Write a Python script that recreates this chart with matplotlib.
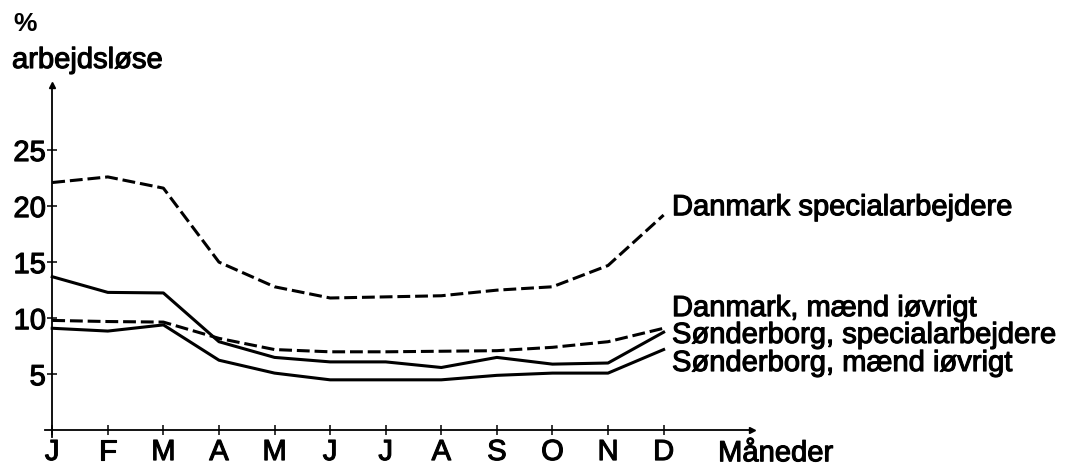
import matplotlib.pyplot as plt
import matplotlib.patheffects as pe

plt.rcParams['font.family'] = ['Liberation Sans', 'DejaVu Sans']

# maaneder og data (procent arbejdsloese)
months = ['J', 'F', 'M', 'A', 'M', 'J', 'J', 'A', 'S', 'O', 'N', 'D']
dk_special = [22.1, 22.6, 21.6, 15.0, 12.8, 11.8, 11.9, 12.0, 12.5, 12.8, 14.7, 19.2]
dk_maend = [9.8, 9.7, 9.65, 8.2, 7.2, 7.0, 7.0, 7.05, 7.1, 7.4, 7.9, 9.1]
sb_special = [13.7, 12.3, 12.25, 7.9, 6.5, 6.1, 6.1, 5.6, 6.5, 5.9, 6.0, 8.75]
sb_maend = [9.1, 8.85, 9.4, 6.25, 5.1, 4.5, 4.5, 4.5, 4.9, 5.1, 5.1, 7.2]
yticks = [5, 10, 15, 20, 25]

labels = ['Danmark specialarbejdere', 'Danmark, mænd iøvrigt',
          'Sønderborg, specialarbejdere', 'Sønderborg, mænd iøvrigt']
label_y = [19.9, 10.9, 8.5, 6.0]

# lidt federe skrift, som i originalen
thick = [pe.withStroke(linewidth=0.8, foreground='black')]

W, H = 1068, 467
fig = plt.figure(figsize=(W / 100, H / 100), dpi=100)
ax = fig.add_axes([45 / W, (H - 437) / H, 707 / W, 352 / H])

x = list(range(len(months)))
lw = 2.2
ax.plot(x, dk_special, color='black', lw=lw, dashes=(4.2, 1.6))
ax.plot(x, dk_maend, color='black', lw=lw, dashes=(4.2, 1.6))
ax.plot(x, sb_special, color='black', lw=lw)
ax.plot(x, sb_maend, color='black', lw=lw)

ax.set_xlim(-0.13, 12.59)
ax.set_ylim(-0.6, 30.8)

for s in ['top', 'right']:
    ax.spines[s].set_visible(False)
ax.spines['left'].set_position(('data', 0))
ax.spines['bottom'].set_position(('data', 0))
ax.spines['left'].set_linewidth(1.3)
ax.spines['bottom'].set_linewidth(1.3)

# pile paa akserne
ax.plot([0], [30.8], marker='^', color='black', ms=5, clip_on=False)
ax.plot([12.59], [0], marker='>', color='black', ms=5, clip_on=False)

ax.set_xticks(x)
ax.set_xticklabels(months, fontsize=21)
ax.set_yticks(yticks)
ax.set_yticklabels([str(v) for v in yticks], fontsize=21)
ax.tick_params(axis='both', direction='inout', length=7.2, width=1.1)
ax.tick_params(axis='x', pad=2)
ax.tick_params(axis='y', pad=1)
for t in ax.get_xticklabels() + ax.get_yticklabels():
    t.set_path_effects(thick)

for lab, ly in zip(labels, label_y):
    ax.text(11.15, ly, lab, fontsize=21, ha='left', va='center', clip_on=False,
            path_effects=thick)

ax.text(11.98, -2.05, 'Måneder', fontsize=21, ha='left', va='center', clip_on=False,
        path_effects=thick)

fig.text(13 / W, 1 - 24 / H, '%', fontsize=19, fontweight='bold', ha='left', va='center')
fig.text(12 / W, 1 - 68 / H, 'arbejdsløse', fontsize=21, ha='left', va='baseline',
         path_effects=thick)

fig.savefig('out.png', dpi=100)
